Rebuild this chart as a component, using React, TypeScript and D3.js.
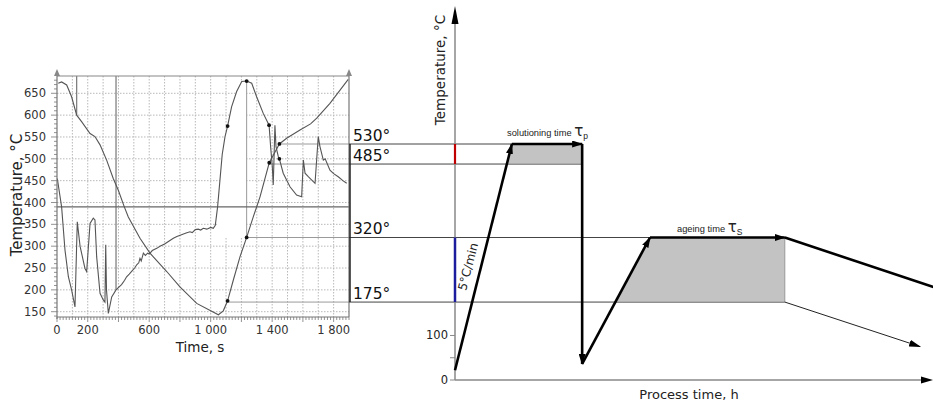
import React from "react";
import * as d3 from "d3";

const W = 933;
const H = 404;

// measured cooling curves (left panel), time in s, temperature in degC
const curveATime = [8, 30, 63, 95, 128, 160, 215, 247, 280, 323, 366, 399, 438, 464, 540, 605, 714, 800, 909, 1000, 1050, 1082, 1110, 1147, 1191, 1234, 1277, 1321, 1381, 1447, 1494, 1581, 1650, 1690, 1776, 1895];
const curveATemp = [673, 676, 669, 642, 600, 585, 558, 551, 532, 497, 455, 428, 390, 367, 318, 284, 242, 207, 169, 152, 143, 152, 175, 222, 276, 320, 367, 413, 491, 534, 547, 566, 580, 593, 627, 682];

const curveBTime = [2, 30, 52, 74, 95, 117, 132, 150, 182, 193, 215, 236, 247, 258, 280, 301, 312, 317, 322, 334, 356, 384, 420, 440, 453, 470, 490, 505, 520, 532, 540, 548, 562, 575, 590, 600, 620, 649, 670, 700, 730, 757, 780, 810, 840, 865, 880, 900, 919, 935, 952, 975, 1000, 1017, 1030, 1045, 1060, 1075, 1093, 1110, 1136, 1169, 1202, 1234, 1267, 1299, 1342, 1380, 1390, 1401, 1407, 1412, 1418, 1425, 1440, 1447, 1472, 1516, 1559, 1592, 1603, 1614, 1635, 1679, 1700, 1711, 1733, 1745, 1776, 1800, 1830, 1860, 1885];
const curveBTemp = [455, 390, 291, 230, 200, 161, 356, 300, 249, 242, 352, 364, 360, 276, 192, 177, 172, 303, 200, 146, 184, 200, 212, 222, 230, 236, 244, 250, 258, 262, 272, 266, 284, 279, 284, 282, 290, 295, 300, 305, 312, 318, 322, 326, 330, 333, 331, 338, 339, 337, 341, 339, 343, 341, 348, 390, 450, 510, 550, 575, 619, 654, 677, 678, 673, 642, 604, 577, 528, 482, 440, 500, 577, 528, 505, 500, 467, 436, 417, 413, 497, 467, 459, 444, 551, 528, 497, 500, 474, 466, 459, 450, 444];

const leftYTicks = [150, 200, 250, 300, 350, 400, 450, 500, 550, 600, 650];
const leftXTicks = [0, 200, 600, 1000, 1400, 1800];
const leftXTickLabels = ["0", "200", "600", "1 000", "1 400", "1 800"];

const markerTimes = [128, 384];
const markerTemps = [600, 200];
const baseLineTemp = 390;
const peakTime = 1234;
const peakTemp = 678;

const dotTimes = [1110, 1234, 1381, 1447, 1110, 1234, 1380, 1447];
const dotTemps = [175, 320, 491, 534, 575, 678, 577, 500];

// reference temperatures linking both panels
const refTemps = [530, 485, 320, 175];
const refLabels = ["530°", "485°", "320°", "175°"];
const refCurveTimes = [1447, 1381, 1234, 1110];
const refEndTimes = [26.6, 26.6, 69, 69];

// heat treatment schedule (right panel), process time in relative units
const profileTime = [0, 11.9, 26.6, 26.6, 40.8, 69, 102];
const profileTemp = [22, 530, 530, 36, 320, 320, 202];
const slowCoolTime = [69, 97.3];
const slowCoolTemp = [175, 75];
const rightYTicks = [0, 50, 100];
const rightYTickLabels = ["0", "", "100"];

const font = "DejaVu Sans, Verdana, sans-serif";

export default function App() {
  const xL = d3.scaleLinear().domain([0, 1900]).range([57, 349]);
  const yL = d3.scaleLinear().domain([150, 650]).range([311.7, 93.3]);
  const xR = d3.scaleLinear().domain([0, 100]).range([455, 933]);
  const yR = d3.scaleLinear().domain([0, 530]).range([380, 144]);

  const top = 76;
  const bottom = 317;
  const left = xL(0);
  const right = xL(1900);

  const lineL = d3
    .line<[number, number]>()
    .x((d) => xL(d[0]))
    .y((d) => yL(d[1]));
  const lineR = d3
    .line<[number, number]>()
    .x((d) => xR(d[0]))
    .y((d) => yR(d[1]));

  const ptsA = curveATime.map((t, i) => [t, curveATemp[i]] as [number, number]);
  const ptsB = curveBTime.map((t, i) => [t, curveBTemp[i]] as [number, number]);

  // white patch under the heating peak
  const patch = ptsB.filter((d) => d[0] >= 1039 && d[0] <= peakTime);
  const patchPath =
    lineL([[1039, 320], ...patch, [peakTime, 320]] as [number, number][]) + "Z";

  // time on a profile segment where it crosses a temperature
  const cross = (i: number, temp: number) => {
    const t0 = profileTime[i], t1 = profileTime[i + 1];
    const T0 = profileTemp[i], T1 = profileTemp[i + 1];
    return t0 + ((temp - T0) / (T1 - T0)) * (t1 - t0);
  };

  const solBand: [number, number][] = [
    [cross(0, 485), 485],
    [profileTime[1], 530],
    [profileTime[2], 530],
    [profileTime[2], 485],
  ];
  const ageBand: [number, number][] = [
    [cross(3, 175), 175],
    [profileTime[4], 320],
    [profileTime[5], 320],
    [profileTime[5], 175],
  ];

  const segs: [number, number][][] = [];
  for (let i = 0; i < profileTime.length - 1; i++) {
    segs.push([
      [profileTime[i], profileTemp[i]],
      [profileTime[i + 1], profileTemp[i + 1]],
    ]);
  }

  const yMinor = d3.range(140, 690, 10);
  const xMinor = d3.range(0, 1901, 20);
  const xGrid = d3.range(100, 1900, 100);

  return (
    <svg
      width={W}
      height={H}
      style={{ position: "absolute", left: 0, top: 0, background: "#fff" }}
      fontFamily={font}
    >
      <defs>
        <marker id="ah" markerUnits="userSpaceOnUse" markerWidth={11} markerHeight={7} refX={10} refY={3.5} orient="auto">
          <path d="M0,0 L11,3.5 L0,7 Z" fill="#000" />
        </marker>
        <marker id="ahThin" markerUnits="userSpaceOnUse" markerWidth={12} markerHeight={7} refX={11} refY={3.5} orient="auto">
          <path d="M0,0 L12,3.5 L0,7 Z" fill="#000" />
        </marker>
      </defs>

      {/* ---------- left panel ---------- */}
      <g>
        {xGrid.map((t) => (
          <line key={"xg" + t} x1={xL(t)} x2={xL(t)} y1={top} y2={bottom} stroke="#b8b8b8" strokeDasharray="1.5,1.5" />
        ))}
        {leftYTicks.map((v) => (
          <line key={"yg" + v} x1={left} x2={right} y1={yL(v)} y2={yL(v)} stroke="#b8b8b8" strokeDasharray="1.5,1.5" />
        ))}
        <path d={patchPath} fill="#fff" />

        {markerTimes.map((t, i) => (
          <line key={"mk" + t} x1={xL(t)} x2={xL(t)} y1={top} y2={yL(markerTemps[i])} stroke="#777" strokeWidth={1.2} />
        ))}
        <line x1={xL(peakTime)} x2={xL(peakTime)} y1={yL(peakTemp)} y2={yL(320)} stroke="#999" />
        <line x1={left} x2={right} y1={yL(baseLineTemp)} y2={yL(baseLineTemp)} stroke="#666" strokeWidth={1.2} />

        {refTemps.map((T, i) => (
          <line key={"rl" + T} x1={xL(refCurveTimes[i])} x2={right} y1={yR(T)} y2={yR(T)} stroke="#9a9a9a" />
        ))}

        <path d={lineL(ptsA) || ""} fill="none" stroke="#555" strokeWidth={1.1} />
        <path d={lineL(ptsB) || ""} fill="none" stroke="#555" strokeWidth={1.1} />

        {dotTimes.map((t, i) => (
          <circle key={"dot" + i} cx={xL(t)} cy={yL(dotTemps[i])} r={1.9} fill="#111" />
        ))}

        {/* frame and axes */}
        <line x1={left} x2={right} y1={top} y2={top} stroke="#888" strokeWidth={1.2} />
        <line x1={left} x2={right} y1={bottom} y2={bottom} stroke="#777" strokeWidth={1.2} />
        <line x1={left} x2={left} y1={bottom + 2} y2={72} stroke="#777" strokeWidth={1.2} />
        <line x1={right} x2={right} y1={bottom} y2={72} stroke="#777" strokeWidth={1.2} />
        <path d={`M${left},69 L${left - 3},76 L${left + 3},76 Z`} fill="#888" />
        <path d={`M${right},69 L${right - 3},76 L${right + 3},76 Z`} fill="#888" />

        {yMinor.map((v) => (
          <line key={"ym" + v} x1={left - (v % 50 === 0 ? 6 : 3)} x2={left} y1={yL(v)} y2={yL(v)} stroke="#777" strokeWidth={0.8} />
        ))}
        {xMinor.map((t) => (
          <line key={"xm" + t} x1={xL(t)} x2={xL(t)} y1={bottom} y2={bottom + (t % 200 === 0 ? 5 : 3)} stroke="#777" strokeWidth={0.8} />
        ))}

        {leftYTicks.map((v) => (
          <text key={"yl" + v} x={46} y={yL(v) + 4} textAnchor="end" fontSize={11.5} fill="#333">
            {v}
          </text>
        ))}
        {leftXTicks.map((t, i) => (
          <text key={"xl" + t} x={xL(t)} y={334} textAnchor="middle" fontSize={11.5} fill="#333">
            {leftXTickLabels[i]}
          </text>
        ))}
        <text x={200} y={352} textAnchor="middle" fontSize={13.5} fill="#222">
          Time, s
        </text>
        <text transform="translate(22,195) rotate(-90)" textAnchor="middle" fontSize={15} fill="#222">
          Temperature, °C
        </text>
      </g>

      {/* ---------- connecting reference lines ---------- */}
      <g>
        {refTemps.map((T, i) => (
          <line key={"rc" + T} x1={right} x2={xR(refEndTimes[i])} y1={yR(T)} y2={yR(T)} stroke="#444" />
        ))}
        <line x1={right + 1} x2={right + 1} y1={yR(530)} y2={yR(175)} stroke="#222" strokeWidth={1.5} />
        {refTemps.map((T, i) => (
          <text key={"rt" + T} x={353} y={yR(T) - 3.5} fontSize={15.5} fill="#111">
            {refLabels[i]}
          </text>
        ))}
      </g>

      {/* ---------- right panel ---------- */}
      <g>
        <path d={lineR(solBand) + "Z"} fill="#c3c3c3" stroke="#888" strokeWidth={0.8} />
        <path d={lineR(ageBand) + "Z"} fill="#c3c3c3" stroke="#888" strokeWidth={0.8} />

        {/* axes */}
        <line x1={xR(0)} x2={xR(0)} y1={yR(0)} y2={18} stroke="#888" strokeWidth={1.5} />
        <path d={`M${xR(0)},6 L${xR(0) - 3.5},24 L${xR(0) + 3.5},24 Z`} fill="#000" />
        <line x1={xR(0)} x2={922} y1={yR(0)} y2={yR(0)} stroke="#888" strokeWidth={1.5} />
        <path d={`M933,${yR(0)} L921,${yR(0) - 3.5} L921,${yR(0) + 3.5} Z`} fill="#000" />

        <line x1={xR(0)} x2={xR(0)} y1={yR(530)} y2={yR(485)} stroke="#c00000" strokeWidth={2.2} />
        <line x1={xR(0)} x2={xR(0)} y1={yR(320)} y2={yR(175)} stroke="#1c1c9c" strokeWidth={2.5} />

        {rightYTicks.map((v, i) => (
          <g key={"ryt" + v}>
            <line x1={xR(0) - 5} x2={xR(0)} y1={yR(v)} y2={yR(v)} stroke="#888" />
            <text x={448} y={yR(v) + 4} textAnchor="end" fontSize={11.5} fill="#222">
              {rightYTickLabels[i]}
            </text>
          </g>
        ))}

        {/* schedule */}
        {segs.map((s, i) => (
          <path
            key={"seg" + i}
            d={lineR(s) || ""}
            fill="none"
            stroke="#000"
            strokeWidth={2.6}
            markerEnd={i < segs.length - 1 ? "url(#ah)" : undefined}
          />
        ))}
        <path
          d={lineR(slowCoolTime.map((t, i) => [t, slowCoolTemp[i]] as [number, number])) || ""}
          fill="none"
          stroke="#222"
          strokeWidth={1}
          markerEnd="url(#ahThin)"
        />

        <text x={507} y={136} fontSize={9.3} fontFamily="Liberation Sans, Arial, sans-serif" fill="#222">
          solutioning time{" "}
          <tspan fontSize={15} fontFamily={font}>τ</tspan>
          <tspan fontSize={8.5} dy={3}>p</tspan>
        </text>
        <text x={677} y={232} fontSize={9.3} fontFamily="Liberation Sans, Arial, sans-serif" fill="#222">
          ageing time{" "}
          <tspan fontSize={15} fontFamily={font}>τ</tspan>
          <tspan fontSize={8.5} dy={3}>S</tspan>
        </text>
        <text transform="translate(473,268) rotate(-75.4)" textAnchor="middle" fontSize={12} fill="#222" dy={-1}>
          5°C/min
        </text>

        <text x={689} y={399} textAnchor="middle" fontSize={13} fill="#222">
          Process time, h
        </text>
        <text transform="translate(445,70) rotate(-90)" textAnchor="middle" fontSize={13.5} fill="#222">
          Temperature, °C
        </text>
      </g>
    </svg>
  );
}
